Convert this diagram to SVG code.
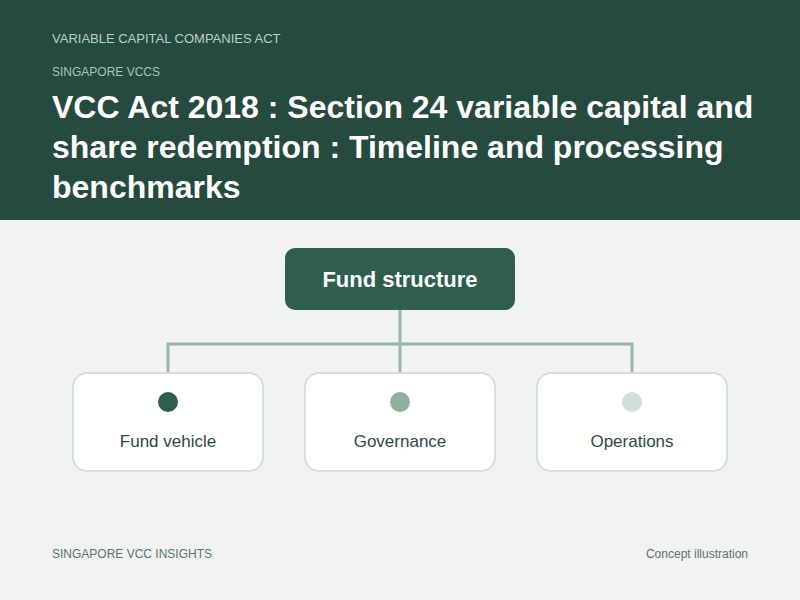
<svg xmlns="http://www.w3.org/2000/svg" width="800" height="600" viewBox="0 0 800 600">
<style>
.sans{font-family:"Liberation Sans",Arial,sans-serif}
.kicker{font-size:13px;fill:#b9d1c6}
.kicker2{font-size:12px;fill:#a9c4b8}
.title{font-size:32px;font-weight:bold;fill:#ffffff}
.rootbox{fill:#2f5d50}
.roottext{font-size:22px;font-weight:bold;fill:#ffffff}
.child{fill:#ffffff;stroke:#d3e0da;stroke-width:2}
.label{font-size:17px;fill:#2e4a42}
.conn{stroke:#9ab5a8;stroke-width:3;fill:none}
.foot{font-size:12px;fill:#5d7469}
</style>
<rect x="0" y="0" width="800" height="600" fill="#f1f3f2"/>
<rect x="0" y="0" width="800" height="220" fill="#264a40"/>
<text class="sans kicker" x="52" y="43">VARIABLE CAPITAL COMPANIES ACT</text>
<text class="sans kicker2" x="52" y="76">SINGAPORE VCCS</text>
<text class="sans title" x="52" y="118">VCC Act 2018 : Section 24 variable capital and</text>
<text class="sans title" x="52" y="158">share redemption : Timeline and processing</text>
<text class="sans title" x="52" y="198">benchmarks</text>
<g id="connectors">
<path class="conn" d="M400 310 V344 M168 373 V344 H632 V373 M400 344 V373"/>
</g>
<g id="root">
<rect class="rootbox" x="285" y="248" width="230" height="62" rx="10"/>
<text class="sans roottext" x="400" y="287" text-anchor="middle">Fund structure</text>
</g>
<g id="fund-vehicle">
<rect class="child" x="73" y="373" width="190" height="98" rx="14"/>
<circle cx="168" cy="402" r="10" fill="#2f5d50"/>
<text class="sans label" x="168" y="447" text-anchor="middle">Fund vehicle</text>
</g>
<g id="governance">
<rect class="child" x="305" y="373" width="190" height="98" rx="14"/>
<circle cx="400" cy="402" r="10" fill="#8fb09f"/>
<text class="sans label" x="400" y="447" text-anchor="middle">Governance</text>
</g>
<g id="operations">
<rect class="child" x="537" y="373" width="190" height="98" rx="14"/>
<circle cx="632" cy="402" r="10" fill="#cfe0d6"/>
<text class="sans label" x="632" y="447" text-anchor="middle">Operations</text>
</g>
<text class="sans foot" x="52" y="558">SINGAPORE VCC INSIGHTS</text>
<text class="sans foot" x="748" y="558" text-anchor="end">Concept illustration</text>
</svg>
